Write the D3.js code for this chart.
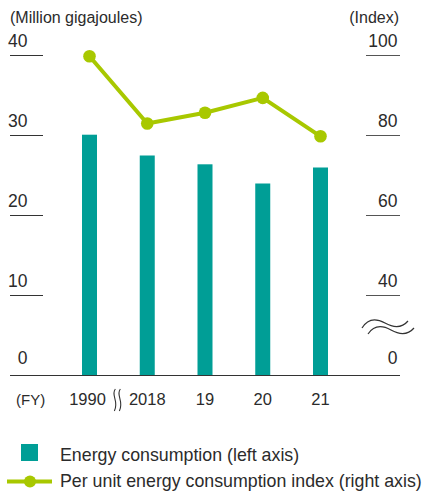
<!DOCTYPE html>
<html>
<head>
<meta charset="utf-8">
<script src="https://cdn.jsdelivr.net/npm/d3@7"></script>
<style>
html,body{margin:0;padding:0;background:#fff;}
svg{display:block;}
text{font-family:"Liberation Sans",Arial,sans-serif;fill:#2b2b2b;}
</style>
</head>
<body>
<svg id="chart" width="422" height="493"></svg>
<script>
const categories = ["1990", "2018", "19", "20", "21"];
const energyConsumption = [30.1, 27.5, 26.4, 24.0, 26.0];
const unitIndex = [99.8, 83.0, 85.7, 89.4, 79.8];
const leftTicks = [0, 10, 20, 30, 40];
const rightTicks = [40, 60, 80, 100];
const rightZeroLabel = "0";
const leftTitle = "(Million gigajoules)";
const rightTitle = "(Index)";
const xTitle = "(FY)";
const legendLabels = ["Energy consumption (left axis)", "Per unit energy consumption index (right axis)"];

const teal = "#009e96";
const lime = "#a8c800";

const svg = d3.select("#chart");

const x = d3.scalePoint().domain(categories).range([89.5, 320.5]);
const yL = d3.scaleLinear().domain([0, 40]).range([375.5, 55.5]);
const yR = d3.scaleLinear().domain([40, 100]).range([295.5, 55.5]);
const baseY = yL(0);
const barW = 15;

// titles
svg.append("text").attr("x", 10).attr("y", 23).style("font-size", "16px").text(leftTitle);
svg.append("text").attr("x", 399).attr("y", 23).attr("text-anchor", "end").style("font-size", "16px").text(rightTitle);

// left ticks
const lt = svg.append("g");
leftTicks.forEach(t => {
  if (t !== 0) {
    lt.append("line").attr("x1", 10).attr("x2", 43).attr("y1", yL(t)).attr("y2", yL(t))
      .attr("stroke", "#333").attr("stroke-width", 1);
    lt.append("text").attr("x", 27.5).attr("y", yL(t) - 9).attr("text-anchor", "end")
      .style("font-size", "17.5px").text(t);
  } else {
    lt.append("text").attr("x", 27.5).attr("y", yL(t) - 12).attr("text-anchor", "end")
      .style("font-size", "17.5px").text(t);
  }
});

// right ticks
const rt = svg.append("g");
rightTicks.forEach(t => {
  rt.append("line").attr("x1", 366).attr("x2", 400).attr("y1", yR(t)).attr("y2", yR(t))
    .attr("stroke", "#555").attr("stroke-width", 1);
  rt.append("text").attr("x", 397.5).attr("y", yR(t) - 9).attr("text-anchor", "end")
    .style("font-size", "17.5px").text(t);
});
rt.append("text").attr("x", 397.5).attr("y", baseY - 12).attr("text-anchor", "end")
  .style("font-size", "17.5px").text(rightZeroLabel);

// right axis break
const brk = svg.append("g").attr("fill", "none").attr("stroke", "#333").attr("stroke-width", 1.2);
brk.append("path").attr("d", "M362,328 C368,318 376,318 385,323 C394,328 402,328 408,321");
brk.append("path").attr("d", "M368,334 C374,325 382,325 391,330 C400,335 408,335 414,328");

// bars
svg.append("g").selectAll("rect").data(categories).join("rect")
  .attr("x", d => x(d) - barW / 2)
  .attr("width", barW)
  .attr("y", (d, i) => yL(energyConsumption[i]))
  .attr("height", (d, i) => baseY - yL(energyConsumption[i]))
  .attr("fill", teal);

// baseline
svg.append("line").attr("x1", 10).attr("x2", 400).attr("y1", baseY).attr("y2", baseY)
  .attr("stroke", "#333").attr("stroke-width", 1);

// line
const pts = categories.map((c, i) => [x(c), yR(unitIndex[i])]);
svg.append("path").attr("d", d3.line()(pts)).attr("fill", "none")
  .attr("stroke", lime).attr("stroke-width", 4).attr("stroke-linejoin", "round");
svg.append("g").selectAll("circle").data(pts).join("circle")
  .attr("cx", d => d[0]).attr("cy", d => d[1]).attr("r", 6.3).attr("fill", lime);

// x labels
svg.append("g").selectAll("text").data(categories).join("text")
  .attr("x", (d, i) => x(d) - (i === 0 ? 2 : 0))
  .attr("y", 405)
  .attr("text-anchor", "middle")
  .style("font-size", "16.5px")
  .text(d => d);
svg.append("text").attr("x", 16).attr("y", 405).style("font-size", "15px").text(xTitle);

// x axis break
const xb = svg.append("g").attr("fill", "none").attr("stroke", "#333").attr("stroke-width", 1.1);
const xm = (x(categories[0]) + x(categories[1])) / 2 - 1;
xb.append("path").attr("d", `M${xm - 2},389 C${xm - 7},395 ${xm + 2},401 ${xm - 3},411`);
xb.append("path").attr("d", `M${xm + 3},389 C${xm - 2},395 ${xm + 7},401 ${xm + 2},411`);

// legend
const lg = svg.append("g");
lg.append("rect").attr("x", 21).attr("y", 444).attr("width", 17).attr("height", 17).attr("fill", teal);
lg.append("text").attr("x", 60).attr("y", 461).style("font-size", "17.8px").text(legendLabels[0]);
lg.append("line").attr("x1", 7).attr("x2", 52).attr("y1", 481.5).attr("y2", 481.5)
  .attr("stroke", lime).attr("stroke-width", 4);
lg.append("circle").attr("cx", 30).attr("cy", 481.5).attr("r", 6).attr("fill", lime);
lg.append("text").attr("x", 60).attr("y", 487).style("font-size", "17.8px").text(legendLabels[1]);
</script>
</body>
</html>
